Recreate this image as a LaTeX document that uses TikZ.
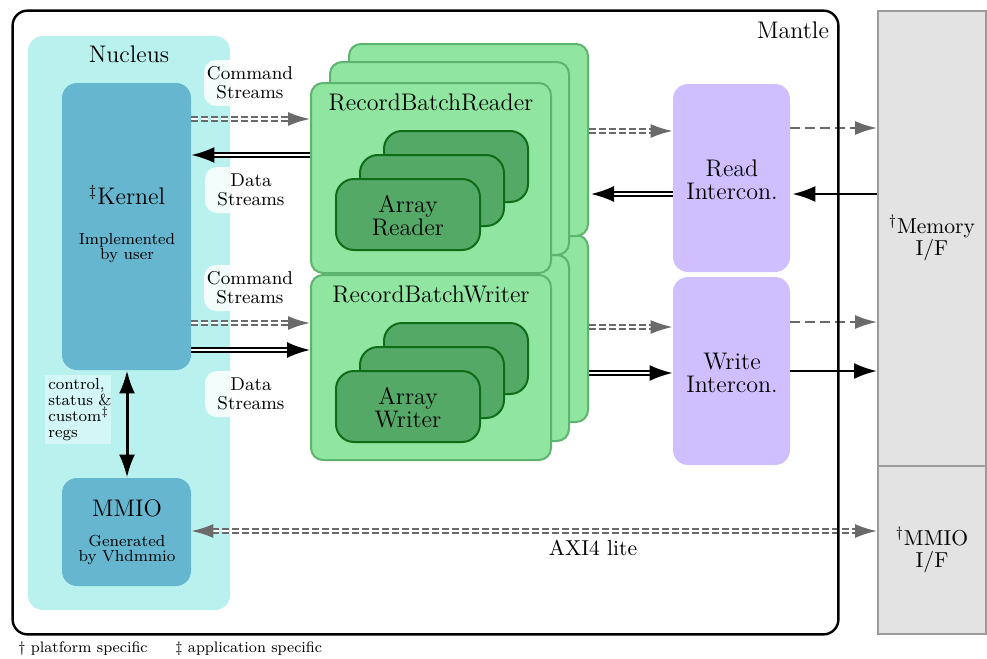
\documentclass[tikz,border=0pt]{standalone}
\usetikzlibrary{arrows.meta,fit}
\definecolor{nucc}{HTML}{B9F1EE}
\definecolor{kerc}{HTML}{66B6CF}
\definecolor{ctlc}{HTML}{D3F6F6}
\definecolor{lgr}{HTML}{90E5A0}
\definecolor{lgrb}{HTML}{5DB46E}
\definecolor{dgr}{HTML}{54A967}
\definecolor{dgrb}{HTML}{0E6E18}
\definecolor{purp}{HTML}{D0BFFF}
\definecolor{ifc}{HTML}{E3E3E3}
\definecolor{ifcb}{HTML}{9B9B9B}
\definecolor{agray}{HTML}{6A6A6A}
\tikzset{
  fbox/.style={fit={#1}, inner sep=0pt},
  mantlebox/.style={rounded corners=7.5pt},
  nucbox/.style={fill=nucc, rounded corners=7.5pt},
  kerbox/.style={fill=kerc, rounded corners=7.5pt},
  rbbox/.style={fill=lgr, draw=lgrb, line width=1pt, rounded corners=6pt},
  arbox/.style={fill=dgr, draw=dgrb, line width=1pt, rounded corners=9pt},
  icbox/.style={fill=purp, rounded corners=7.5pt},
  ifbox/.style={fill=ifc, draw=ifcb, line width=1pt},
  big/.style={font=\fontsize{12}{11.5}\selectfont, align=center},
  mid/.style={font=\fontsize{10.8}{11}\selectfont, align=center},
  lbl/.style={font=\fontsize{9.3}{9.6}\selectfont, align=center, fill=white, fill opacity=0.8, text opacity=1, rounded corners=6pt, minimum width=46pt, minimum height=23pt, inner sep=1pt},
  tiny/.style={font=\fontsize{8}{7.8}\selectfont, align=center},
  foot/.style={font=\fontsize{7.6}{8}\selectfont, inner sep=0pt},
  cmdarrow/.style={draw=agray, line width=1pt, double=white, double distance=1pt, dash pattern=on 3.5pt off 1.5pt, -{Latex[length=11pt,width=7pt]}},
  datarrow/.style={draw=black, line width=1pt, double=white, double distance=1pt, -{Latex[length=11.5pt,width=8pt]}},
  sdash/.style={draw=agray, line width=1pt, dash pattern=on 5pt off 2.5pt, -{Latex[length=11pt,width=7pt]}},
  ssolid/.style={draw=black, line width=1.2pt, -{Latex[length=11.5pt,width=8pt]}},
}
\begin{document}
\begin{tikzpicture}[x=0.5pt,y=-0.5pt]
\useasboundingbox (0,0) rectangle (987,659);
% Mantle background
\node[fbox={(13,11) (838,634)}, mantlebox, fill=white] (mantle) {};
% Nucleus
\node[fbox={(28,36) (230,610)}, nucbox] (nucleus) {};
% stream labels
\node[lbl] (cs1) at (250,83) {Command\\Streams};
\node[lbl] (ds1) at (251,190) {Data\\Streams};
\node[lbl] (cs2) at (250,288) {Command\\Streams};
\node[lbl] (ds2) at (251,394) {Data\\Streams};
% Kernel and MMIO
\node[fbox={(62,83) (191,370)}, kerbox] (kernel) {};
\node[fbox={(62,478) (191,586)}, kerbox] (mmio) {};
\node[fill=ctlc, anchor=north west, inner sep=1.5pt, text width=30pt, align=left, font=\fontsize{8}{8}\selectfont] (ctl) at (45,375) {control,\\status~\&\\custom\textsuperscript{\ddag}\\regs};
% Writer stack
\node[fbox={(349,235) (588,422)}, rbbox] (wbr3) {};
\node[fbox={(330,255) (569,441)}, rbbox] (wbr2) {};
\node[fbox={(311,275) (551,460)}, rbbox] (wbr) {};
\node[fbox={(384,323) (528,394)}, arbox] (aw3) {};
\node[fbox={(360,347) (504,418)}, arbox] (aw2) {};
\node[fbox={(336,371) (480,442)}, arbox] (aw) {};
% Reader stack
\node[fbox={(349,44) (588,236)}, rbbox] (rbr3) {};
\node[fbox={(330,62) (569,255)}, rbbox] (rbr2) {};
\node[fbox={(311,83) (551,273)}, rbbox] (rbr) {};
\node[fbox={(384,131) (528,202)}, arbox] (ar3) {};
\node[fbox={(360,155) (504,226)}, arbox] (ar2) {};
\node[fbox={(336,179) (480,250)}, arbox] (ar) {};
% Interconnects
\node[fbox={(673,84) (790,272)}, icbox] (read) {};
\node[fbox={(673,277) (790,465)}, icbox] (write) {};
% Interfaces
\node[fbox={(878,11) (986,466)}, ifbox] (mem) {};
\node[fbox={(878,466) (986,634)}, ifbox] (mmioif) {};
% Arrows: kernel <-> readers/writers
\draw[cmdarrow] (kernel.east |- 0,119) -- (rbr.west |- 0,119);
\draw[datarrow] (rbr.west |- 0,155) -- (kernel.east |- 0,155);
\draw[cmdarrow] (kernel.east |- 0,323) -- (wbr.west |- 0,323);
\draw[datarrow] (kernel.east |- 0,350) -- (wbr.west |- 0,350);
% readers/writers <-> interconnects
\draw[cmdarrow] (rbr3.east |- 0,131) -- (read.west |- 0,131);
\draw[datarrow] (read.west |- 0,194) -- ([xshift=1pt]rbr3.east |- 0,194);
\draw[cmdarrow] (wbr3.east |- 0,327) -- (write.west |- 0,327);
\draw[datarrow] (wbr3.east |- 0,373) -- (write.west |- 0,373);
% interconnects <-> memory
\draw[sdash] (read.east |- 0,128) -- (mem.west |- 0,128);
\draw[ssolid] (mem.west |- 0,194) -- ([xshift=1pt]read.east |- 0,194);
\draw[sdash] (write.east |- 0,322) -- (mem.west |- 0,322);
\draw[ssolid] (write.east |- 0,371) -- (mem.west |- 0,371);
% kernel <-> mmio
\draw[draw=black, line width=1.5pt, {Latex[length=11.5pt,width=8pt]}-{Latex[length=11.5pt,width=8pt]}] (kernel.south -| 127,0) -- (mmio.north -| 127,0);
% AXI4 lite
\draw[draw=agray, line width=1pt, double=white, double distance=1pt, dash pattern=on 3.5pt off 1.5pt, {Latex[length=11pt,width=7pt]}-{Latex[length=11pt,width=7pt]}] (mmio.east |- 0,531) -- (mmioif.west |- 0,531);
% Mantle border
\draw[line width=1.2pt, rounded corners=7.5pt] (mantle.north west) rectangle (mantle.south east);
% Texts
\node[big, anchor=north east] (tmantle) at (836,15) {Mantle};
\node[big] (tnucleus) at (129,54) {Nucleus};
\node[big] (tkernel) at (127,195) {\textsuperscript{\ddag}Kernel};
\node[tiny] (tkimpl) at (127,248) {Implemented\\by user};
\node[big] (tmmio) at (127,508) {MMIO};
\node[tiny] (tmgen) at (127,550) {Generated\\by Vhdmmio};
\node[big] (trbr) at (431,102) {RecordBatchReader};
\node[big] (twbr) at (431,294) {RecordBatchWriter};
\node[big] (tar) at (408,216) {Array\\Reader};
\node[big] (taw) at (408,408) {Array\\Writer};
\node[big] (tread) at (732,180) {Read\\Intercon.};
\node[big] (twrite) at (732,373) {Write\\Intercon.};
\node[mid] (tmem) at (932,238) {\textsuperscript{\dag}Memory\\I/F};
\node[mid] (tmmioif) at (932,550) {\textsuperscript{\dag}MMIO\\I/F};
\node[mid] (taxi) at (593,548) {AXI4 lite};
\node[foot, anchor=west] (fn1) at (18,649) {\dag{} platform specific};
\node[foot, anchor=west] (fn2) at (175,649) {\ddag{} application specific};
\end{tikzpicture}
\end{document}
